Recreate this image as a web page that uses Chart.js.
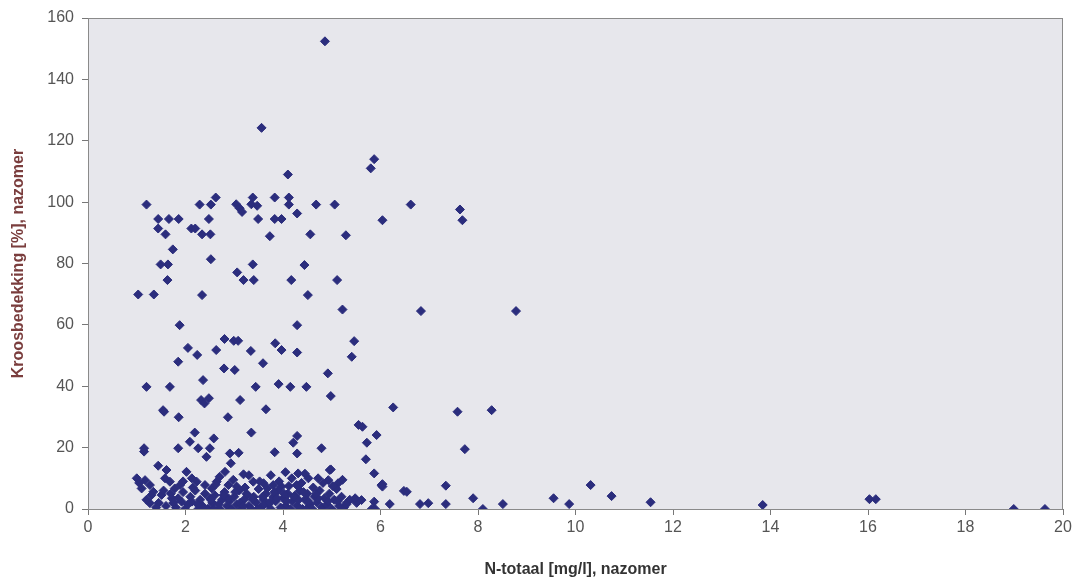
<!DOCTYPE html>
<html>
<head>
<meta charset="utf-8">
<script src="https://cdn.jsdelivr.net/npm/chart.js@4"></script>
<style>
  html, body { margin: 0; padding: 0; background: #fff; }
  #wrap { width: 1077px; height: 585px; }
</style>
</head>
<body>
<div id="wrap"><canvas id="kroos"></canvas></div>
<script>
// N-totaal (x) en kroosbedekking (y)
const nTotaal = [
  4.86, 3.56, 5.87, 5.80, 4.10,
  1.20, 2.29, 2.52, 2.62, 3.04, 3.11, 3.16, 3.38, 3.35, 3.47, 3.49, 3.83, 3.83, 3.97, 4.12, 4.12, 4.29, 4.68, 5.06,
  1.44, 1.66, 1.86, 1.44, 1.59, 2.12, 2.20, 2.48, 2.34, 2.51, 3.73, 4.56,
  1.74, 2.52, 1.49, 1.64, 3.38, 4.44, 1.63, 3.06, 3.19, 3.40, 4.17, 5.11,
  1.03, 1.35, 2.34, 4.51,
  6.62, 7.63, 7.68, 6.04, 5.29, 5.22, 6.83, 8.78,
  1.88, 4.29, 2.80, 2.99, 3.08, 2.05, 2.24, 2.63, 3.34, 3.84, 3.97, 4.29, 1.85, 2.79, 3.01, 3.59, 4.92, 2.36,
  1.20, 1.68, 3.44, 3.91, 4.15, 4.48, 4.98, 2.32, 2.39, 2.48, 3.12, 1.54, 1.56, 3.65, 1.86, 2.87, 2.19, 2.09,
  2.58, 3.35, 4.29, 4.21, 1.15, 1.15, 1.85, 2.26, 2.50, 2.43, 2.91, 3.09, 2.93, 3.83, 4.29, 4.79,
  5.46, 5.41, 6.26, 7.58, 8.28, 5.55, 5.63, 5.92, 5.72, 7.73, 5.70, 4.98, 5.87, 6.04, 6.04, 6.48, 6.54, 7.34,
  7.90, 8.51, 6.19, 6.81, 6.98, 7.34, 8.10, 5.82, 5.87, 9.55, 9.87, 5.31, 5.37, 5.50, 5.51,
  10.31, 10.74, 11.54, 13.84, 16.03, 16.16, 18.99, 19.63,
  1.44, 1.61, 1.00, 1.17, 1.27, 1.10, 1.34, 1.27, 1.58, 1.68, 1.78, 1.89, 2.02, 2.13, 2.23, 2.40, 2.54,
  1.51, 1.72, 1.92, 2.13, 2.33, 2.50, 1.99, 2.26, 2.47,
  2.81, 3.19, 4.18, 2.64, 2.88, 3.05, 3.39, 3.60, 3.80, 3.97, 4.28,
  4.96, 4.31, 4.52, 4.72, 4.93, 5.13, 6.02, 5.48, 5.61, 5.89,
  1.20, 1.30, 1.45, 1.55, 1.60, 1.70, 1.80, 1.85, 1.95, 2.05, 2.10, 2.20, 2.30, 2.35, 2.40, 2.55, 2.60, 2.70,
  2.75, 2.80, 2.85, 2.90, 2.95, 3.00, 3.05, 3.10, 3.15, 3.20, 3.25, 3.30, 3.35, 3.40, 3.45, 3.50, 3.55, 3.60,
  3.65, 3.70, 3.75, 3.80, 3.85, 3.90, 3.95, 4.00, 4.05, 4.10, 4.15, 4.20, 4.25, 4.30, 4.35, 4.40, 4.45, 4.50,
  4.55, 4.60, 4.65, 4.70, 4.75, 4.80, 4.85, 4.90, 4.95, 5.00, 5.05, 5.10, 5.15, 5.20, 5.25,
  2.62, 2.98, 3.22, 3.52, 3.68, 3.92, 4.12, 4.38, 4.62, 4.82, 5.02, 5.22, 2.15, 1.95, 2.70, 3.30, 3.75, 4.05,
  4.45, 1.05, 2.45, 2.58, 2.88, 3.12, 3.38, 3.62, 3.88, 4.08, 4.32, 4.52, 4.72, 4.92, 5.12, 2.25, 2.68, 3.48,
  3.98, 4.48, 5.30, 1.40, 1.75,
  2.78, 3.02, 3.28, 3.58, 3.82, 4.02, 4.22, 4.42, 4.68, 2.52, 3.18, 3.72
];
const kroosbedekking = [
  152.4, 124.2, 114, 111, 109,
  99.2, 99.2, 99.2, 101.5, 99.3, 98, 96.8, 101.5, 99.3, 98.8, 94.5, 101.5, 94.5, 94.5, 101.5, 99.2, 96.3, 99.2, 99.2,
  94.5, 94.5, 94.5, 91.4, 89.5, 91.4, 91.4, 94.5, 89.5, 89.5, 88.9, 89.5,
  84.6, 81.4, 79.7, 79.7, 79.7, 79.5, 74.6, 77.1, 74.6, 74.6, 74.6, 74.6,
  69.9, 69.9, 69.7, 69.7,
  99.2, 97.6, 94.1, 94.1, 89.2, 65, 64.5, 64.5,
  59.9, 59.9, 55.4, 54.8, 54.8, 52.5, 50.2, 51.8, 51.5, 54, 51.8, 51, 48, 45.8, 45.3, 47.5, 44.2, 42,
  39.8, 39.8, 39.8, 40.7, 39.8, 39.8, 36.8, 35.5, 34.4, 36.1, 35.5, 32.2, 31.7, 32.5, 29.9, 29.9, 24.9, 21.9,
  23, 24.9, 23.8, 21.6, 19.8, 18.7, 19.8, 19.8, 19.8, 17, 18.1, 18.3, 14.9, 18.5, 18.1, 19.8,
  54.7, 49.6, 33.1, 31.7, 32.2, 27.4, 26.8, 24.1, 21.6, 19.5, 16.2, 12.9, 11.6, 8.1, 7.3, 5.9, 5.6, 7.6,
  3.5, 1.6, 1.6, 1.6, 1.9, 1.6, 0, 0, 2.4, 3.5, 1.6, 2, 3, 3, 2,
  7.8, 4.2, 2.2, 1.3, 3.2, 3.2, 0, 0,
  14.1, 12.7, 10, 9.4, 7.8, 6.7, 5.6, 1.9, 10, 8.9, 6.7, 7.8, 12.1, 10, 8.9, 7.8, 6.7,
  4.6, 3.5, 2.4, 2.4, 1.3, 3.5, 0, 0, 0,
  12.1, 11.3, 10, 8.9, 7.8, 7.3, 8.9, 8.4, 7.8, 7.3, 7.8,
  12.7, 11.6, 10, 10, 9.4, 8.4, 7.8, 3.5, 2.9, 0,
  3, 4.5, 2, 6, 1, 5, 0.5, 3.5, 5.5, 1.5, 4, 6, 3, 0.5, 5, 2, 4.5, 0,
  3, 5.5, 1, 2.5, 0, 4, 1.5, 6, 0, 3, 5, 1, 0, 4, 2, 6.5, 0.5, 3,
  5, 1.5, 0, 4, 2.5, 6, 0.5, 3.5, 1, 5, 0, 2.5, 4.5, 1, 6, 0, 3, 5,
  1.5, 0, 4, 2, 6, 0.5, 3.5, 1.5, 5, 0, 3, 6.5, 1, 4, 0.5,
  8, 9.5, 7, 9, 6.8, 9, 7.5, 8.5, 7, 8.5, 7.5, 9.5, 7, 9, 10.5, 11, 11, 12,
  11.5, 8.5, 0, 0, 3.5, 2, 3, 1.5, 3.5, 2.5, 3, 2.5, 3.5, 2.5, 2.5, 1.5, 1.5, 0,
  0, 0, 1.5, 0.5, 2,
  4.5, 5.5, 4.5, 4, 5.5, 5, 4, 5.5, 5, 3, 1, 2
];
const xTickValues = [0, 2, 4, 6, 8, 10, 12, 14, 16, 18, 20];
const yTickValues = [0, 20, 40, 60, 80, 100, 120, 140, 160];

const points = nTotaal.map((x, i) => ({ x: x, y: kroosbedekking[i] }));

const plotFrame = {
  id: 'plotFrame',
  beforeDraw(chart) {
    const { ctx, chartArea: a } = chart;
    ctx.save();
    ctx.fillStyle = '#e7e7ec';
    ctx.fillRect(a.left, a.top, a.right - a.left, a.bottom - a.top);
    ctx.restore();
  },
  afterDatasetsDraw(chart) {
    const { ctx, chartArea: a } = chart;
    ctx.save();
    ctx.strokeStyle = '#8a8a8a';
    ctx.lineWidth = 1;
    ctx.strokeRect(a.left + 0.5, a.top + 0.5, a.right - a.left - 1, a.bottom - a.top);
    ctx.restore();
  }
};

const tickFont = { family: '"Liberation Sans", Arial, sans-serif', size: 16 };
const titleFont = { family: '"Liberation Sans", Arial, sans-serif', size: 16, weight: 'bold' };

new Chart(document.getElementById('kroos'), {
  type: 'scatter',
  data: {
    datasets: [{
      data: points,
      pointStyle: 'rectRot',
      pointRadius: 4.5,
      pointBorderWidth: 1,
      backgroundColor: '#2b2d7d',
      borderColor: '#2b2d7d'
    }]
  },
  options: {
    responsive: true,
    maintainAspectRatio: false,
    animation: false,
    layout: { padding: { top: 18, right: 14, left: 0, bottom: 0 } },
    plugins: { legend: { display: false }, tooltip: { enabled: false } },
    scales: {
      x: {
        type: 'linear', min: 0, max: 20,
        afterBuildTicks: s => { s.ticks = xTickValues.map(v => ({ value: v })); },
        afterFit: s => { s.height = 76; },
        grid: { drawOnChartArea: false, tickLength: 6, color: '#777' },
        border: { display: true, color: '#777' },
        ticks: { color: '#555', font: tickFont, padding: 3, maxRotation: 0 },
        title: { display: true, text: 'N-totaal [mg/l], nazomer', color: '#333', font: titleFont, padding: { top: 0, bottom: 6 } }
      },
      y: {
        type: 'linear', min: 0, max: 160,
        afterBuildTicks: s => { s.ticks = yTickValues.map(v => ({ value: v })); },
        afterFit: s => { s.width = 88; },
        grid: { drawOnChartArea: false, tickLength: 6, color: '#777' },
        border: { display: true, color: '#777' },
        ticks: { color: '#555', font: tickFont, padding: 8 },
        title: { display: true, text: 'Kroosbedekking [%], nazomer', color: '#7a3d3d', font: titleFont, padding: { top: 9, bottom: 0 } }
      }
    }
  },
  plugins: [plotFrame]
});
</script>
</body>
</html>
